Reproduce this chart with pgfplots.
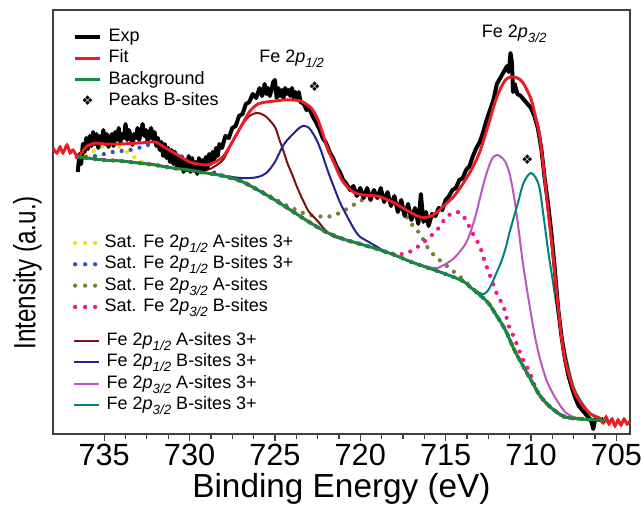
\documentclass[border=0pt]{standalone}
\usepackage{fontspec}
\setmainfont{Liberation Sans}
\newfontfamily\symfont{DejaVu Sans}
\usepackage{pgfplots}
\pgfplotsset{compat=1.18}

\definecolor{cfit}{RGB}{237,28,36}
\definecolor{cbg}{RGB}{20,140,60}
\definecolor{cyel}{RGB}{235,225,30}
\definecolor{cblu}{RGB}{50,80,200}
\definecolor{coli}{RGB}{125,125,50}
\definecolor{cpink}{RGB}{250,20,140}
\definecolor{cbrown}{RGB}{130,15,15}
\definecolor{cnavy}{RGB}{35,35,140}
\definecolor{cviol}{RGB}{190,85,190}
\definecolor{cteal}{RGB}{0,130,130}

\newcommand{\sub}[1]{\raisebox{-0.5ex}{\fontsize{10}{10}\selectfont\textit{#1}}}

\pgfplotsset{
  base/.style={width=432.75pt, height=318pt, scale only axis,
    x dir=reverse, xmin=704.2, xmax=738, ymin=0, ymax=424, clip=true},
  leg/.style={legend cell align=left,
    legend style={draw=none, fill=none, inner sep=0pt, outer sep=0pt,
      row sep=0pt, column sep=5pt, font=\fontsize{13.5}{16}\selectfont,
      nodes={inner xsep=0pt, inner ysep=1pt, text height=10.5pt, text depth=3.5pt}}},
  dots/.style={line width=3.2pt, line cap=round, dash pattern=on 0pt off 6.8pt, smooth},
  dotleg/.style={legend image code/.code={\draw[##1, dash pattern=on 0pt off 7.5pt] (0pt,0pt) -- (15.5pt,0pt);}},
  lineleg/.style={legend image code/.code={\draw[##1] (0pt,0pt) -- (18.75pt,0pt);}},
  markleg/.style={legend image code/.code={\draw[##1, mark repeat=2, mark phase=2] plot coordinates {(0pt,0pt)(9.4pt,0pt)(18.75pt,0pt)};}},
  comp/.style={line width=1.5pt, smooth},
}

\begin{document}
\begin{tikzpicture}

% satellites (dotted)
\begin{axis}[base, hide axis, leg, dotleg,
  legend style={at={(axis description cs:0.0347,0.4757)}, anchor=north west}]
\addplot[dots, cyel] coordinates {
(736.6,277)(736.2,278)(735.8,281)(735.4,285)(735,288)(734.6,289)(734.2,288)(733.8,284)(733.4,279)(733,274)(732.6,271)(732,269)
(731,266)(730,264)(729,261)(728,258)(727,253)(726,244)(725,234)(724,223)(723,212)(722,202)(721,195)(720,190)(719,185)(718,179)(717,172)(716,166)(715,160)(714,153)(713.5,146)(713,139)(712.5,131)(712,118)(711.5,104)(711,85)(710.5,69)(710,54)(709.5,39)(709,29)(708.5,22)(708,17)(707,15)(706,14)(705.6,13)};
\addlegendentry{Sat. Fe 2\textit{p}\sub{1/2} A-sites 3+}
\addplot[dots, cblu] coordinates {
(736.6,277)(736,277)(735.5,278)(735,280)(734.5,282)(734,283)(733.5,284)(733,286)(732.5,289)(732,289)(731.5,286)(731,283)(730.5,278)(730,273)(729.5,269)(729,265)(728.5,261)(728,258)(727,253)
(726,244)(725,234)(724,223)(723,212)(722,202)(721,195)(720,190)(719,185)(718,179)(717,172)(716,166)(715,160)(714,153)(713.5,146)(713,139)(712.5,131)(712,118)(711.5,104)(711,85)(710.5,69)(710,54)(709.5,39)(709,29)(708.5,22)(708,17)(707,15)(706,14)(705.6,13)};
\addlegendentry{Sat. Fe 2\textit{p}\sub{1/2} B-sites 3+}
\addplot[dots, coli] coordinates {
(736.6,277)(736,276)(735,274)(734,273)(733,271)(732,269)(731,266)(730,264)(729,261)(728,258)(727,253)
(726,244.5)(725,235)(724.5,230)(724,226)(723.5,222)(723,219)(722.5,218)(722,217)(721.5,219)(721,223)(720.5,228)(720,233)(719.5,237)(719,238)(718.5,236)(718,231)(717.5,223)(717,210)(716.5,200)(716,185)(715.5,176)(715,169)(714.5,162)(714,155)(713.5,147)
(713,139)(712.5,131)(712,118)(711.5,104)(711,85)(710.5,69)(710,54)(709.5,39)(709,29)(708.5,22)(708,17)(707,15)(706,14)(705.6,13)};
\addlegendentry{Sat. Fe 2\textit{p}\sub{3/2} A-sites}
\addplot[dots, cpink] coordinates {
(736.6,277)(736,276)(735,274)(734,273)(733,271)(732,269)(731,266)(730,264)(729,261)(728,258)(727,253)(726,244)(725,234)(724,223)(723,212)(722,202)(721,195)(720,190)(719,185)
(718.5,182)(718,180)(717.5,180)(717,183)(716.5,189)(716,196)(715.5,204)(715,216)(714.6,221)(714.3,222)(714,219)(713.6,207)(713.3,197)(713,188)(712.7,172)(712.3,154)(712,140)(711.6,127)(711.3,108)(711,97)(710.7,84)(710.4,72)(710.1,63)(709.8,49)(709.5,39)
(709,29)(708.5,22)(708,17)(707,15)(706,14)(705.6,13)};
\addlegendentry{Sat. Fe 2\textit{p}\sub{3/2} B-sites}
\end{axis}

% fitted components
\begin{axis}[base, hide axis, leg, lineleg,
  legend style={at={(axis description cs:0.0347,0.2446)}, anchor=north west}]
\addplot[comp, cbrown] coordinates {
(736.6,277)(736,276)(735,274)(734,273)(733,271)(732,269)(731,266)(730,265)(729,264)(728.5,268)(728,275)(727.5,292)(727,307)(726.5,318)(726,321)(725.5,317)(725,307)(724.75,295)(724.5,283)(724.25,270)(724,260)(723.75,249)(723.5,239)(723.25,230)(723,222)(722.5,213)(722,203)(721.5,197)
(721,195)(720,190)(719,185)(718,179)(717,172)(716,166)(715,160)(714,153)(713.5,146)(713,139)(712.5,131)(712,118)(711.5,104)(711,85)(710.5,69)(710,54)(709.5,39)(709,29)(708.5,22)(708,17)(707,15)(706,14)(705.6,13)};
\addlegendentry{Fe 2\textit{p}\sub{1/2} A-sites 3+}
\addplot[comp, cnavy] coordinates {
(736.6,277)(736,276)(735,274)(734,273)(733,271)(732,269)(731,266)(730,264)(729,261)
(728,258)(727.5,257)(727,256)(726.5,256)(726,257)(725.5,261)(725,272)(724.5,289)(724,299)(723.5,307)(723.25,308)(723,306)(722.75,300)(722.5,292)(722.25,281)(722,268)(721.75,256)(721.5,245)(721.25,234)(721,225)(720.75,217)(720.5,209)(720.25,202)(720,197)(719.5,192)(719,187)(718.5,182)
(718,179)(717,172)(716,166)(715,160)(714,153)(713.5,146)(713,139)(712.5,131)(712,118)(711.5,104)(711,85)(710.5,69)(710,54)(709.5,39)(709,29)(708.5,22)(708,17)(707,15)(706,14)(705.6,13)};
\addlegendentry{Fe 2\textit{p}\sub{1/2} B-sites 3+}
\addplot[comp, cviol] coordinates {
(736.6,277)(736,276)(735,274)(734,273)(733,271)(732,269)(731,266)(730,264)(729,261)(728,258)(727,253)(726,244)(725,234)(724,223)(723,212)(722,202)(721,195)(720,190)(719,185)(718,179)(717,172)
(716,167)(715.5,166)(715,170)(714.5,176)(714,186)(713.75,193)(713.5,204)(713.25,218)(713,235)(712.75,252)(712.5,266)(712.25,276)(712,279)(711.75,277)(711.5,272)(711.25,260)(711,238)(710.75,208)(710.5,174)(710.25,146)(710,120)(709.75,96)(709.5,77)(709.25,62)(709,50)(708.5,34)(708,22)(707.5,17)
(707,15)(706,14)(705.6,13)};
\addlegendentry{Fe 2\textit{p}\sub{3/2} A-sites 3+}
\addplot[comp, cteal] coordinates {
(736.6,277)(736,276)(735,274)(734,273)(733,271)(732,269)(731,266)(730,264)(729,261)(728,258)(727,253)(726,244)(725,234)(724,223)(723,212)(722,202)(721,195)(720,190)(719,185)(718,179)(717,172)(716,166)(715,160)
(714,153)(713.5,146)(713,141)(712.75,140)(712.5,144)(712.25,152)(712,162)(711.75,172)(711.5,185)(711.25,202)(711,217)(710.75,232)(710.5,248)(710.25,257)(710,261)(709.75,257)(709.5,246)(709.25,216)(709,184)(708.75,156)(708.5,128)(708.25,104)(708,82)(707.75,63)(707.5,47)(707.25,38)(707,31)(706.5,20)(706,15)(705.6,13)};
\addlegendentry{Fe 2\textit{p}\sub{3/2} B-sites 3+}
\end{axis}

% measured spectrum, envelope, background
\begin{axis}[base, name=ax, leg, lineleg,
  legend style={at={(axis description cs:0.0347,0.9616)}, anchor=north west},
  axis line style={black!75, line width=1pt},
  xtick={705,710,715,720,725,730,735},
  xticklabels={705,710,715,720,725,730,735},
  minor x tick num=3, xtick pos=left, ytick=\empty,
  tick align=outside, major tick length=5.5pt, minor tick length=4pt,
  every tick/.style={black!75, line width=0.9pt},
  xticklabel style={font=\fontsize{23}{27}\selectfont, inner sep=0pt, yshift=-2pt},
  xlabel={Binding Energy (eV)},
  xlabel style={font=\fontsize{25}{30}\selectfont, at={(axis description cs:0.5,0)}, anchor=base, yshift=-47.25pt},
  ylabel={\scalebox{0.79}[1]{Intensity (a.u.)}},
  ylabel style={font=\fontsize{23}{27}\selectfont, at={(axis description cs:-0.0442,0.380)}, anchor=center},
]
\addplot[black, line width=3pt, line join=round] coordinates {
(736.55,262)(736.45,280)(736.35,270)(736.25,290)(736.15,282)(736.05,296)(735.95,285)(735.85,298)(735.75,288)(735.65,302)(735.55,290)(735.45,300)(735.35,286)(735.25,298)(735.15,292)(735.05,304)(734.95,290)(734.85,300)(734.75,287)(734.65,296)(734.55,300)(734.45,288)(734.35,302)(734.25,294)(734.15,306)(734.05,292)(733.95,300)(733.85,296)(733.75,310)(733.65,294)(733.55,304)(733.45,298)(733.35,289)(733.25,300)(733.15,296)(733.05,306)(732.95,294)(732.85,302)(732.75,310)(732.65,298)(732.55,304)(732.45,292)(732.35,300)(732.25,306)(732.15,295)(732.05,302)(731.95,288)(731.85,296)(731.75,284)(731.65,292)(731.55,278)(731.45,290)(731.35,276)(731.25,286)(731.15,272)(731.05,284)(730.95,270)(730.85,282)(730.75,268)(730.65,278)(730.55,266)(730.45,276)(730.35,262)(730.25,274)(730.15,264)(730.05,278)(729.95,262)(729.85,276)(729.75,264)(729.65,272)(729.55,260)(729.45,276)(729.35,262)(729.25,274)(729.15,264)(729.05,277)(728.95,266)(728.85,280)(728.75,270)(728.65,282)(728.55,274)(728.45,286)(728.35,278)(728.25,290)(728.1,286)(727.9,298)(727.7,296)(727.5,306)(727.3,308)(727.1,318)(726.9,320)(726.7,330)(726.5,332)(726.3,340)(726.1,336)(725.9,346)(725.75,338)(725.6,350)(725.5,340)(725.4,346)(725.3,338)(725.2,344)(725.1,352)(725.0,354)(724.9,336)(724.8,346)(724.7,338)(724.6,344)(724.5,336)(724.4,346)(724.3,340)(724.2,344)(724.1,338)(724.0,346)(723.9,336)(723.8,342)(723.7,336)(723.6,342)(723.5,332)(723.3,330)(723.15,324)(723.0,326)(722.8,318)(722.6,312)(722.4,305)(722.2,296)(722.0,291)(721.8,282)(721.6,276)(721.4,268)(721.2,262)(721.0,254)(720.8,250)(720.6,244)(720.4,248)(720.2,238)(720.0,246)(719.8,236)(719.6,246)(719.4,234)(719.2,244)(719.0,236)(718.8,246)(718.6,232)(718.4,242)(718.2,228)(718.0,238)(717.8,222)(717.6,234)(717.4,218)(717.2,230)(717.0,214)(716.8,226)(716.6,210)(716.45,240)(716.3,212)(716.15,222)(716.0,208)(715.8,220)(715.6,218)(715.4,226)(715.2,224)(715.0,234)(714.8,238)(714.6,244)(714.4,246)(714.2,254)(714.0,256)(713.8,264)(713.6,268)(713.4,278)(713.2,286)(713.0,292)(712.8,302)(712.6,314)(712.4,324)(712.2,334)(712.0,350)(711.8,356)(711.6,362)(711.4,368)(711.3,362)(711.2,381)(711.12,372)(711.05,342)(710.95,350)(710.8,340)(710.6,338)(710.4,334)(710.2,330)(710.0,326)(709.8,318)(709.6,306)(709.4,286)(709.2,256)(709.0,230)(708.8,200)(708.6,164)(708.4,124)(708.2,96)(708.0,74)(707.8,58)(707.6,46)(707.4,36)(707.2,28)(707.0,24)(706.8,20)(706.6,16)(706.45,12)(706.35,5)(706.25,14)(706.1,16)(705.9,14)(705.75,15)};
\addlegendentry{Exp}
\addplot[cfit, line width=2.2pt, smooth] coordinates {
(738,286)(737.77,281)(737.59,287)(737.42,281)(737.18,289)(737.0,281)(736.83,284)(736.54,277)(736.25,283)(736,288)(735.5,291)(735,290)(734.5,290)(734,290)(733.5,290.5)(733,291)(732.5,291.5)(732,292)(731.5,287)(731,282)(730.5,277)(730,272)(729.5,270)(729,269)(728.5,272)(728,278)(727.5,292)(727,307)(726.5,322)(726,330)(725.5,332)(725,333)(724.5,334)(724,334)(723.5,333)(723,328)(722.75,323)(722.5,315)(722.25,303)(722,290)(721.75,279)(721.5,270)(721.25,260)(721,252)(720.5,243)(720,239.5)(719.5,238.5)(719,238)(718.5,235)(718,231)(717.5,226)(717,221)(716.5,217)(716,217)(715.5,222)(715,230)(714.5,238)(714,250)(713.5,264)(713,282)(712.5,309)(712,337)(711.5,354)(711,357)(710.5,352)(710,335)(709.75,318)(709.5,299)(709.25,264)(709,224)(708.75,186)(708.5,142)(708.25,102)(708,74)(707.5,44)(707,29)(706.5,20)(706,16)(705.77,11)(705.6,17)(705.43,10)(705.25,15)(705.08,8)(704.9,14)(704.73,9)(704.55,15)(704.37,10)(704.2,13)};
\addlegendentry{Fit}
\addplot[cbg, line width=2.2pt, smooth] coordinates {
(736.6,277)(736,276)(735,274)(734,273)(733,271)(732,269)(731,266)(730,264)(729,261)(728,258)(727,253)(726,244)(725,234)(724,223)(723,212)(722,202)(721,195)(720,190)(719,185)(718,179)(717,172)(716,166)(715,160)(714,153)(713.5,146)(713,139)(712.5,131)(712,118)(711.5,104)(711,85)(710.5,69)(710,54)(709.5,39)(709,29)(708.5,22)(708,17)(707,15)(706,14)(705.6,13)};
\addlegendentry{Background}
\addplot[only marks, mark=text, text mark={\fontsize{10}{10}\selectfont\symfont ❖}, markleg]
  coordinates {(722.68,347)(710.22,274)};
\addlegendentry{Peaks B-sites}
\node[anchor=base west, font=\fontsize{13.5}{16}\selectfont] at (axis cs:726.19,371) {Fe 2\textit{p}\sub{1/2}};
\node[anchor=base west, font=\fontsize{13.5}{16}\selectfont] at (axis cs:713.15,396) {Fe 2\textit{p}\sub{3/2}};
\end{axis}

\pgfresetboundingbox
\path[use as bounding box] ([shift={(-39.75pt,-60.75pt)}]ax.south west) rectangle ([shift={(8.25pt,7.5pt)}]ax.north east);
\end{tikzpicture}
\end{document}
